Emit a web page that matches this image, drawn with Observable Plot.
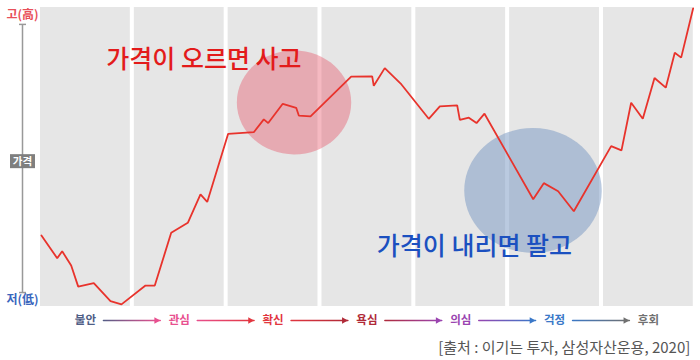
<!DOCTYPE html>
<html>
<head>
<meta charset="utf-8">
<script src="https://cdn.jsdelivr.net/npm/d3@7"></script>
<script src="https://cdn.jsdelivr.net/npm/@observablehq/plot@0.6"></script>
<style>
  html, body { margin: 0; padding: 0; background: #fff; }
</style>
</head>
<body>
<div id="chart"></div>
<script>
// ---- data ----
const phaseNames = ["불안", "관심", "확신", "욕심", "의심", "걱정", "후회"];
const phaseColors = ["#4f5e86", "#e8508f", "#e2363f", "#b02a38", "#9a44b0", "#3a78c8", "#707070"];

// price path: x in phase units (0..7), y in price units (0 = 저, 100 = 고)
const priceX = [0.01, 0.178, 0.231, 0.327, 0.402, 0.568, 0.746, 0.863, 1.119, 1.218,
  1.393, 1.570, 1.705, 1.777, 2.000, 2.273, 2.380, 2.427, 2.582, 2.725,
  2.753, 2.878, 3.311, 3.535, 3.552, 3.669, 3.847, 4.138, 4.256, 4.441,
  4.469, 4.565, 4.647, 4.732, 5.251, 5.364, 5.517, 5.684, 6.082, 6.192,
  6.295, 6.419, 6.544, 6.664, 6.760, 6.828, 6.956];
const priceY = [21.3, 12.8, 15.4, 10.1, 2.2, 3.5, -3.2, -4.4, 2.6, 2.6,
  22.3, 26.0, 36.6, 33.8, 59.2, 59.8, 64.6, 63.2, 70.4, 68.9,
  66.0, 65.7, 80.5, 80.6, 77.1, 83.7, 77.6, 64.8, 69.4, 69.8,
  64.4, 65.2, 63.2, 66.7, 34.8, 40.8, 37.8, 30.3, 54.6, 53.0,
  70.8, 64.8, 80.0, 76.4, 89.4, 87.6, 106.0];

const bubbleX = [2.702, 5.249];
const bubbleY = [70.9, 38.1];
const bubbleColors = ["#e55163", "#7595c1"];

const noteTexts = ["가격이 오르면 사고", "가격이 내리면 팔고"];
const noteX = [1.742, 4.625];
const noteY = [86.9, 16.9];
const noteColors = ["#e31b1b", "#1b50c0"];

const levelLabels = ["저(低)", "고(高)"];
const levelValues = [0, 100];
const levelColors = ["#3a66bd", "#e8505a"];
const axisTitle = "가격";
const axisTitleY = 49;
const sourceText = "[출처 : 이기는 투자, 삼성자산운용, 2020]";

// ---- tables built from arrays ----
const phases = phaseNames.map((name, i) => ({i, name, color: phaseColors[i]}));
const links = phaseNames.slice(0, -1).map((name, i) => ({i, from: phaseColors[i], to: phaseColors[i + 1]}));
const price = priceX.map((x, i) => ({x, y: priceY[i]}));
const bubbles = bubbleX.map((x, i) => ({x, y: bubbleY[i], color: bubbleColors[i]}));
const notes = noteTexts.map((t, i) => ({t, x: noteX[i], y: noteY[i], color: noteColors[i]}));
const levels = levelLabels.map((t, i) => ({t, y: levelValues[i], color: levelColors[i]}));

const yDomain = [-5.2, 106.3];

// custom symbols
const ellipse = {
  draw(ctx, size) {
    const ry = Math.sqrt(size / Math.PI), rx = ry * 1.1, k = 0.5522847;
    ctx.moveTo(rx, 0);
    ctx.bezierCurveTo(rx, k * ry, k * rx, ry, 0, ry);
    ctx.bezierCurveTo(-k * rx, ry, -rx, k * ry, -rx, 0);
    ctx.bezierCurveTo(-rx, -k * ry, -k * rx, -ry, 0, -ry);
    ctx.bezierCurveTo(k * rx, -ry, rx, -k * ry, rx, 0);
    ctx.closePath();
  }
};
const boxSymbol = { draw(ctx) { ctx.rect(-12.5, -7, 25, 14); } };
const capSymbol = { draw(ctx) { ctx.moveTo(-3.5, 0); ctx.lineTo(3.5, 0); } };

const font = "'Noto Sans CJK KR', 'Noto Sans', sans-serif";

const plot = Plot.plot({
  width: 700,
  height: 360,
  marginTop: 7,
  marginBottom: 54,
  marginLeft: 40,
  marginRight: 3.2,
  x: {domain: [0, 7], axis: null},
  y: {domain: yDomain, axis: null},
  style: {fontFamily: font, background: "#fff", overflow: "visible"},
  marks: [
    // phase bands
    Plot.rect(phases, {x1: "i", x2: d => d.i + 1, insetRight: 4, fill: "#e6e6e6"}),
    // bubbles
    Plot.dot(bubbles.slice(0, 1), {x: "x", y: "y", r: 52, symbol: ellipse, fill: "color", fillOpacity: 0.4, stroke: "none"}),
    Plot.dot(bubbles.slice(1), {x: "x", y: "y", r: 62.5, symbol: ellipse, fill: "color", fillOpacity: 0.5, stroke: "none"}),
    // price line
    Plot.line(price, {x: "x", y: "y", stroke: "#e8332c", strokeWidth: 1.8, strokeLinejoin: "miter"}),
    // notes
    Plot.text(notes, {x: "x", y: "y", text: "t", fill: "color", fontSize: 25, fontWeight: 500}),
    // vertical price axis
    Plot.ruleX([0], {y1: levelValues[0], y2: levelValues[1], dx: -18, stroke: "#999", strokeWidth: 1.5}),
    Plot.dot(levels, {x: () => 0, y: "y", dx: -18, symbol: capSymbol, stroke: "#999", strokeWidth: 1.5, fill: "none", r: 3}),
    Plot.text(levels.slice(1), {x: () => 0, y: "y", dx: -18, dy: -9, text: "t", fill: "color", fontSize: 12, fontWeight: "bold"}),
    Plot.text(levels.slice(0, 1), {x: () => 0, y: "y", dx: -18, dy: 8, text: "t", fill: "color", fontSize: 12, fontWeight: "bold"}),
    Plot.dot([axisTitle], {x: () => 0, y: () => axisTitleY, dx: -18, symbol: boxSymbol, r: 7, fill: "#7f7f7f", stroke: "none"}),
    Plot.text([axisTitle], {x: () => 0, y: () => axisTitleY, dx: -18, text: d => d, fill: "#fff", fontSize: 10.5, fontWeight: "bold"}),
    // phase labels and arrows
    Plot.arrow(links, {x1: d => d.i + 0.5, x2: d => d.i + 1.5, y1: () => yDomain[0], y2: () => yDomain[0],
      dx: -2, dy: 14, insetStart: 18, insetEnd: 19, headLength: 0, stroke: "from", strokeWidth: 1.5}),
    Plot.dot(links, {x: d => d.i + 1.5, y: () => yDomain[0], dx: -2 - 19 - 3.9, dy: 14,
      symbol: "triangle", rotate: 90, r: 2.5, fill: "to", stroke: "none"}),
    Plot.text(phases, {x: d => d.i + 0.5, y: () => yDomain[0], dx: -2, dy: 14, text: "name", fill: "color", fontSize: 11.5, fontWeight: "bold"}),
    // source
    Plot.text([sourceText], {frameAnchor: "bottom-right", dx: -7, dy: 46, text: d => d, textAnchor: "end", fontSize: 15, fill: "#555"})
  ]
});

// gradient strokes for the phase arrows
const sx = plot.scale("x");
const svg = d3.select(plot);
const defs = svg.insert("defs", ":first-child");
links.forEach((l, i) => {
  const g = defs.append("linearGradient")
    .attr("id", "ag" + i)
    .attr("gradientUnits", "userSpaceOnUse")
    .attr("x1", sx.apply(l.i + 0.5) - 2 + 18)
    .attr("x2", sx.apply(l.i + 1.5) - 2 - 19)
    .attr("y1", 0).attr("y2", 0);
  g.append("stop").attr("offset", 0).attr("stop-color", l.from);
  g.append("stop").attr("offset", 1).attr("stop-color", l.to);
});
svg.selectAll('g[aria-label="arrow"] path').attr("stroke", (d, i) => `url(#ag${i})`);

document.getElementById("chart").appendChild(plot);
</script>
</body>
</html>
